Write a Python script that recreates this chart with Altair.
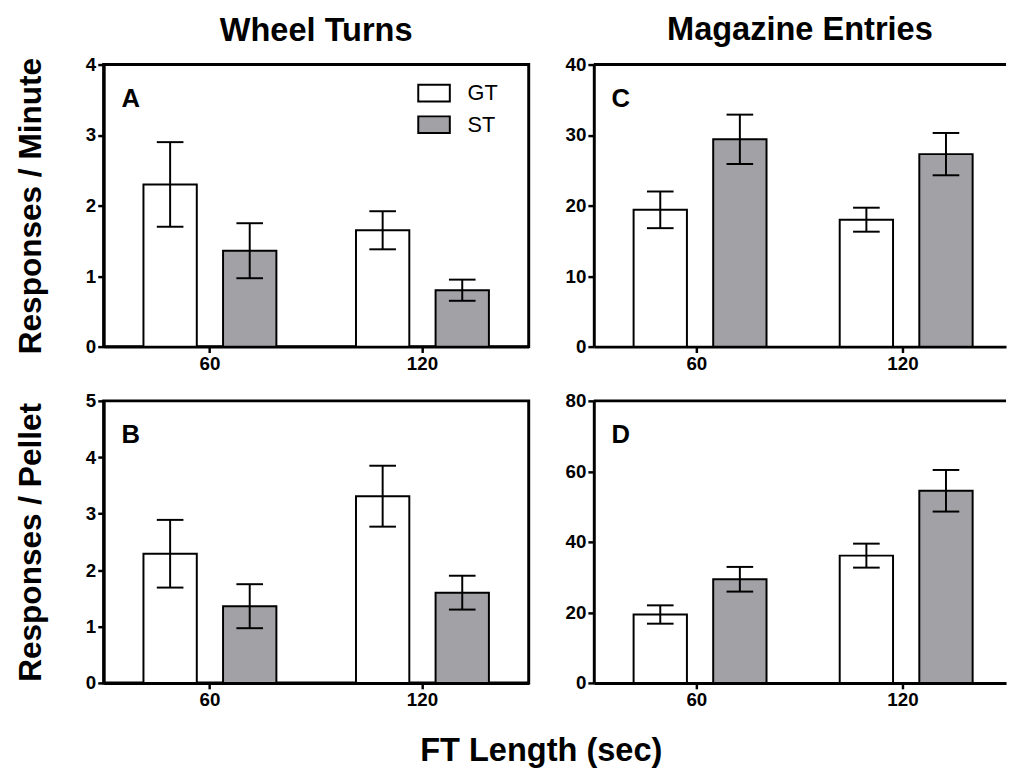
import altair as alt
import pandas as pd

ft_lengths = ["60", "120"]
groups = ["GT", "ST"]

# Panel A: Wheel turns, responses / minute
a_gt_mean = [2.30, 1.65]
a_gt_err = [0.60, 0.27]
a_st_mean = [1.36, 0.80]
a_st_err = [0.39, 0.15]

# Panel B: Wheel turns, responses / pellet
b_gt_mean = [2.29, 3.31]
b_gt_err = [0.60, 0.54]
b_st_mean = [1.36, 1.60]
b_st_err = [0.39, 0.30]

# Panel C: Magazine entries, responses / minute
c_gt_mean = [19.4, 18.0]
c_gt_err = [2.6, 1.7]
c_st_mean = [29.4, 27.3]
c_st_err = [3.5, 3.0]

# Panel D: Magazine entries, responses / pellet
d_gt_mean = [19.4, 36.1]
d_gt_err = [2.6, 3.4]
d_st_mean = [29.4, 54.5]
d_st_err = [3.5, 5.9]

y_ticks_a = [0, 1, 2, 3, 4]
y_ticks_b = [0, 1, 2, 3, 4, 5]
y_ticks_c = [0, 10, 20, 30, 40]
y_ticks_d = [0, 20, 40, 60, 80]

FONT = "Liberation Sans"
GRAY = "#a2a1a6"
LEFT_W = 431
RIGHT_W = 418
H = 286


def make_df(gt_mean, gt_err, st_mean, st_err):
    rows = []
    for i, ft in enumerate(ft_lengths):
        for g, m, e in (("GT", gt_mean[i], gt_err[i]), ("ST", st_mean[i], st_err[i])):
            rows.append({"ft": ft, "group": g, "mean": m, "lo": m - e, "hi": m + e})
    return pd.DataFrame(rows)


def panel(gt_mean, gt_err, st_mean, st_err, yticks, letter, width,
          ytitle=None, coltitle=None, boxed=True, legend=False, title_offset=8):
    df = make_df(gt_mean, gt_err, st_mean, st_err)
    ymax = yticks[-1]
    base = alt.Chart(df)
    x = alt.X("ft:N", sort=ft_lengths,
              scale=alt.Scale(paddingInner=0, paddingOuter=0),
              axis=alt.Axis(title=None, labelAngle=0))
    xo = alt.XOffset("group:N", sort=groups,
                     scale=alt.Scale(domain=groups, paddingInner=0.33, paddingOuter=0.5))
    yscale = alt.Scale(domain=[0, ymax], nice=False, zero=True)
    yaxis = alt.Axis(values=yticks, format="d", title=ytitle if ytitle else None)
    if legend:
        leg = alt.Legend(orient="none", legendX=318, legendY=12, title=None,
                         symbolType="M-1,-0.53H1V0.53H-1Z", symbolSize=1024,
                         symbolStrokeColor="black", symbolStrokeWidth=2,
                         symbolOpacity=1, labelFontSize=22, labelFont=FONT,
                         labelColor="black", labelOffset=17, rowPadding=2, padding=0)
    else:
        leg = None
    bars = base.mark_bar(stroke="black", strokeWidth=2, opacity=1).encode(
        x=x, xOffset=xo,
        y=alt.Y("mean:Q", scale=yscale, axis=yaxis),
        fill=alt.Fill("group:N", scale=alt.Scale(domain=groups, range=["white", GRAY]),
                      legend=leg),
    )
    err = base.mark_rule(color="black", strokeWidth=2).encode(
        x=x, xOffset=xo, y=alt.Y("lo:Q", scale=yscale, axis=yaxis), y2="hi:Q")
    cap_hi = base.mark_tick(color="black", thickness=2, size=27, opacity=1).encode(
        x=x, xOffset=xo, y=alt.Y("hi:Q", scale=yscale, axis=yaxis))
    cap_lo = base.mark_tick(color="black", thickness=2, size=27, opacity=1).encode(
        x=x, xOffset=xo, y=alt.Y("lo:Q", scale=yscale, axis=yaxis))
    txt = alt.Chart(pd.DataFrame({"letter": [letter]})).mark_text(
        fontSize=26, fontWeight="bold", font=FONT, align="left",
        baseline="alphabetic", color="black").encode(
        text="letter:N", x=alt.value(18), y=alt.value(43))
    layers = [bars, err, cap_hi, cap_lo, txt]
    if not boxed:
        top = alt.Chart(pd.DataFrame({"top": [ymax]})).mark_rule(
            color="black", strokeWidth=3).encode(y=alt.Y("top:Q", scale=yscale, axis=yaxis))
        layers.append(top)
    ch = alt.layer(*layers).properties(width=width, height=H)
    if boxed:
        ch = ch.properties(view=alt.ViewBackground(stroke="black", strokeWidth=3))
    else:
        ch = ch.properties(view=alt.ViewBackground(stroke=None))
    if coltitle:
        ch = ch.properties(title=alt.TitleParams(coltitle, fontSize=33, fontWeight="bold",
                                                 font=FONT, anchor="middle",
                                                 offset=title_offset, color="black"))
    if legend:
        ch = ch.resolve_legend(fill="independent")
    return ch


pA = panel(a_gt_mean, a_gt_err, a_st_mean, a_st_err, y_ticks_a, "A", LEFT_W,
           ytitle="Responses / Minute", coltitle="Wheel Turns", boxed=True, legend=True,
           title_offset=8)
pC = panel(c_gt_mean, c_gt_err, c_st_mean, c_st_err, y_ticks_c, "C", RIGHT_W,
           coltitle="Magazine Entries", boxed=False, title_offset=9)
pB = panel(b_gt_mean, b_gt_err, b_st_mean, b_st_err, y_ticks_b, "B", LEFT_W,
           ytitle="Responses / Pellet", boxed=True)
pD = panel(d_gt_mean, d_gt_err, d_st_mean, d_st_err, y_ticks_d, "D", RIGHT_W,
           boxed=False)

top_row = alt.hconcat(pA, pC, spacing=34).resolve_scale(fill="independent").resolve_legend(fill="independent")
bot_row = alt.hconcat(pB, pD, spacing=34).resolve_scale(fill="independent").resolve_legend(fill="independent")

chart = alt.vconcat(top_row, bot_row, spacing=15).resolve_scale(
    fill="independent").resolve_legend(fill="independent").properties(
    title=alt.TitleParams("FT Length (sec)", orient="bottom", anchor="middle",
                          fontSize=33, fontWeight="bold", font=FONT, color="black",
                          offset=25, dx=31),
    padding={"left": 5, "top": 0, "right": 0, "bottom": 0},
).configure_axis(
    domainColor="black", domainWidth=3, tickColor="black", tickWidth=2.5, tickSize=6,
    labelColor="black", labelFont=FONT, labelFontSize=19, labelFontWeight="bold",
    labelPadding=2, titleColor="black", titleFont=FONT, titleFontSize=32,
    titleFontWeight="bold", titlePadding=38, grid=False,
).configure_view(stroke=None)

chart.save("out.html", embed_options={"renderer": "svg", "actions": False})
